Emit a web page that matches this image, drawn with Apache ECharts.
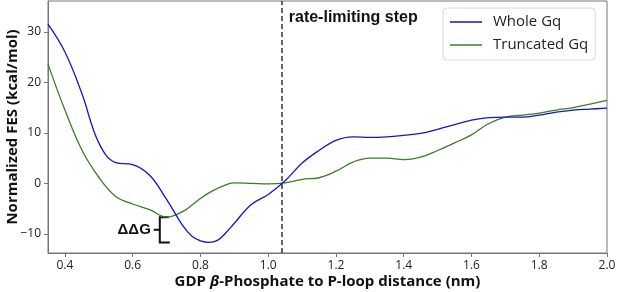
<!DOCTYPE html>
<html>
<head>
<meta charset="utf-8">
<script src="https://cdn.jsdelivr.net/npm/echarts@6/dist/echarts.min.js"></script>
<style>
  html, body { margin: 0; padding: 0; background: #fff; }
  #main { width: 617px; height: 292px; }
</style>
</head>
<body>
<div id="main"></div>
<script>
// distance (nm); every 0.05, denser around the minimum
var dist = [0.35, 0.40, 0.45, 0.50, 0.55, 0.60, 0.65, 0.70, 0.75, 0.775, 0.80, 0.825, 0.85, 0.875, 0.90, 0.95, 1.00, 1.05, 1.10, 1.15, 1.20, 1.25, 1.30, 1.35, 1.40, 1.45, 1.50, 1.55, 1.60, 1.65, 1.70, 1.75, 1.80, 1.85, 1.90, 1.95, 2.00];
// FES (kcal/mol)
var wholeGq = [31.5, 26.0, 17.8, 8.0, 4.1, 3.7, 1.6, -3.2, -8.6, -10.5, -11.4, -11.7, -11.3, -9.8, -7.9, -4.2, -2.2, 0.5, 4.0, 6.5, 8.5, 9.2, 9.1, 9.2, 9.5, 9.9, 10.7, 11.6, 12.5, 13.0, 13.1, 13.1, 13.5, 14.1, 14.5, 14.7, 14.9];
var truncatedGq = [23.6, 14.5, 6.6, 1.2, -2.6, -4.1, -5.2, -6.7, -5.5, -4.3, -3.0, -1.9, -1.0, -0.3, 0.1, 0.0, -0.1, 0.1, 0.8, 1.1, 2.4, 4.2, 5.0, 5.0, 4.7, 5.2, 6.5, 8.0, 9.6, 11.8, 13.1, 13.5, 13.9, 14.5, 15.0, 15.7, 16.4];

var xTicks = [0.4, 0.6, 0.8, 1.0, 1.2, 1.4, 1.6, 1.8, 2.0];
var yTicks = [-10, 0, 10, 20, 30];
var stepX = 1.04;

function pairs(xs, ys) {
  return xs.map(function (x, i) { return [x, ys[i]]; });
}

var labelFont = "Open Sans";
var myChart = echarts.init(document.getElementById("main"));

myChart.setOption({
  animation: false,
  grid: {
    left: 48, right: 10, top: 1, bottom: 39,
    outerBoundsMode: "none",
    show: true, borderColor: "#777", borderWidth: 1
  },
  legend: {
    orient: "vertical",
    left: 443, top: 8,
    padding: [4, 7, 5, 7],
    icon: "rect",
    itemWidth: 32, itemHeight: 1.5, itemGap: 3,
    backgroundColor: "#fff",
    borderColor: "#d8d8d8", borderWidth: 1, borderRadius: 4,
    textStyle: { fontFamily: labelFont, fontSize: 15, lineHeight: 20, color: "#222", padding: [0, 0, 0, 6] },
    data: ["Whole Gq", "Truncated Gq"]
  },
  xAxis: {
    type: "value",
    min: 0.35, max: 2.0,
    name: "GDP {i|β}-Phosphate to P-loop distance (nm)",
    nameLocation: "middle", nameGap: 21, nameMoveOverlap: false,
    nameTextStyle: {
      fontFamily: labelFont, fontWeight: "bold", fontSize: 15, color: "#111",
      rich: { i: { fontFamily: labelFont, fontStyle: "italic", fontWeight: "bold", fontSize: 15, color: "#111" } }
    },
    axisLine: { onZero: false, lineStyle: { color: "#777" } },
    axisTick: { length: 4, lineStyle: { color: "#777" }, customValues: xTicks },
    axisLabel: {
      customValues: xTicks, margin: 7,
      fontFamily: labelFont, fontSize: 12, color: "#222",
      formatter: function (v) { return v.toFixed(1); }
    },
    splitLine: { show: false }
  },
  yAxis: {
    type: "value",
    min: -13.8, max: 36.1,
    name: "Normalized FES (kcal/mol)",
    nameLocation: "middle", nameGap: 28, nameMoveOverlap: false,
    nameTextStyle: { fontFamily: labelFont, fontWeight: "bold", fontSize: 15, color: "#111" },
    axisLine: { show: true, onZero: false, lineStyle: { color: "#777" } },
    axisTick: { show: true, length: 4, lineStyle: { color: "#777" }, customValues: yTicks },
    axisLabel: {
      customValues: yTicks, margin: 7,
      fontFamily: labelFont, fontSize: 12, color: "#222",
      formatter: function (v) { return v < 0 ? "\u2212" + (-v) : String(v); }
    },
    splitLine: { show: false }
  },
  series: [
    {
      name: "Whole Gq",
      type: "line",
      data: pairs(dist, wholeGq),
      smooth: 0.4,
      symbol: "none",
      lineStyle: { color: "#1515c8", width: 1.3 },
      itemStyle: { color: "#1515c8" },
      markLine: {
        silent: true,
        symbol: "none",
        label: { show: false },
        lineStyle: { color: "#333", type: [5, 3], width: 1.5 },
        data: [{ xAxis: stepX }]
      },
      z: 3
    },
    {
      name: "Truncated Gq",
      type: "line",
      data: pairs(dist, truncatedGq),
      smooth: 0.4,
      symbol: "none",
      lineStyle: { color: "#3a7d25", width: 1.3 },
      itemStyle: { color: "#3a7d25" },
      z: 2
    }
  ]
});

// annotations placed from data coordinates
var stepPx = myChart.convertToPixel({ gridIndex: 0 }, [stepX, 0]);
var bx = myChart.convertToPixel({ gridIndex: 0 }, [0.68, 0])[0];
var topY = myChart.convertToPixel({ gridIndex: 0 }, [0.68, Math.min.apply(null, truncatedGq)])[1];
var botY = myChart.convertToPixel({ gridIndex: 0 }, [0.68, Math.min.apply(null, wholeGq)])[1];
var midY = (topY + botY) / 2;

myChart.setOption({
  graphic: [
    {
      type: "text",
      left: stepPx[0] + 7, top: 10,
      style: { text: "rate-limiting step", font: "bold 16px 'Liberation Sans'", fill: "#111" }
    },
    {
      type: "polyline",
      shape: { points: [[bx + 9, topY], [bx, topY], [bx, botY], [bx + 10, botY]] },
      style: { stroke: "#111", lineWidth: 2, fill: null }
    },
    {
      type: "line",
      shape: { x1: bx - 6, y1: midY, x2: bx, y2: midY },
      style: { stroke: "#111", lineWidth: 2 }
    },
    {
      type: "text",
      x: bx - 9, y: midY,
      style: {
        text: "ΔΔG", font: "bold 15px 'Liberation Sans'", fill: "#111",
        align: "right", verticalAlign: "middle"
      }
    }
  ]
});
</script>
</body>
</html>
